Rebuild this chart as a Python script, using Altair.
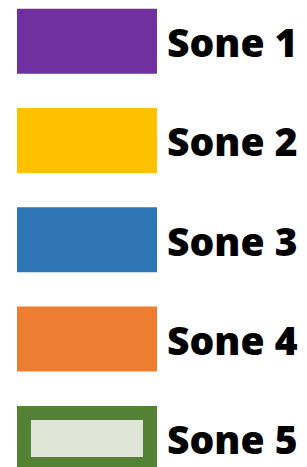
import altair as alt
import pandas as pd

labels = ["Sone 1", "Sone 2", "Sone 3", "Sone 4", "Sone 5"]
colors = ["#7030a0", "#ffc000", "#2e75b6", "#ed7d31", "#548235"]
hollow = ["Sone 5"]
hollow_fill = "#dfe6d8"

df = pd.DataFrame({"label": labels, "color": colors})

yscale = alt.Scale(domain=labels, range=[-1.3, 460.9], paddingInner=0.3455, paddingOuter=0)
y = alt.Y("label:N", scale=yscale, axis=None)

swatch = alt.Chart(df).mark_rect().encode(
    y=y,
    x=alt.value(9),
    x2=alt.value(149),
    color=alt.Color("label:N", scale=alt.Scale(domain=labels, range=colors), legend=None),
)

inner = alt.Chart(df).transform_filter(
    alt.FieldOneOfPredicate(field="label", oneOf=hollow)
).mark_rect(height=37).encode(
    y=y,
    x=alt.value(23),
    x2=alt.value(135),
    color=alt.value(hollow_fill),
)

text = alt.Chart(df).mark_text(
    align="left", baseline="alphabetic", dy=16,
    font="Open Sans", fontSize=39, fontWeight=800, color="#000000",
).encode(
    y=y,
    x=alt.value(159),
    text="label:N",
)

chart = alt.layer(swatch, inner, text).properties(
    width=291, height=459, padding=0
).configure_view(stroke=None)

chart.save("out.html", embed_options={"renderer": "svg", "actions": False})
